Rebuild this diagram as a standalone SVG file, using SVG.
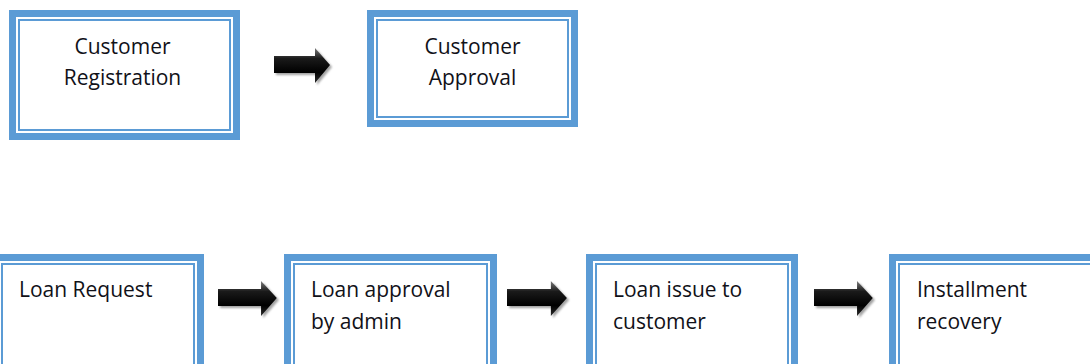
<svg xmlns="http://www.w3.org/2000/svg" width="1090" height="364" viewBox="0 0 1090 364">
<style>
.thick{fill:none;stroke:#5B9BD5;stroke-width:7}
.thin{fill:none;stroke:#5B9BD5;stroke-width:2}
text{font-family:"Open Sans","Noto Sans",sans-serif;font-size:21px;fill:#111118}
.c{text-anchor:middle}
.arrow{fill:url(#ag)}
.shadow{fill:#555;opacity:0.55;filter:url(#blur)}
</style>
<defs>
<linearGradient id="ag" x1="0" y1="0" x2="0" y2="1">
<stop offset="0" stop-color="#7a7a7a"/>
<stop offset="0.3" stop-color="#1a1a1a"/>
<stop offset="0.7" stop-color="#000"/>
<stop offset="1" stop-color="#2a2a2a"/>
</linearGradient>
<filter id="blur" x="-20%" y="-20%" width="140%" height="140%"><feGaussianBlur stdDeviation="1"/></filter>
<g id="arr">
<polygon class="shadow" transform="translate(2,2)" points="0,8 41,8 41,0 56,17 41,35 41,25 0,25"/>
<polygon class="arrow" points="0,8 41,8 41,0 56,17 41,35 41,25 0,25"/>
</g>
</defs>
<rect width="1090" height="364" fill="#fff"/>

<g id="connectors">
<use href="#arr" x="274" y="48"/>
<use href="#arr" transform="translate(218,281) scale(1.05,1)"/>
<use href="#arr" transform="translate(507,281) scale(1.07,1)"/>
<use href="#arr" transform="translate(814,281) scale(1.05,1)"/>
</g>

<g id="customer-registration">
<rect class="thick" x="12.5" y="13.5" width="224" height="123"/>
<rect class="thin" x="19" y="20" width="211" height="110"/>
<text class="c" x="122.5" y="54">Customer</text>
<text class="c" x="122.5" y="85">Registration</text>
</g>

<g id="customer-approval">
<rect class="thick" x="370.5" y="13.5" width="204" height="110"/>
<rect class="thin" x="377" y="20" width="191" height="97"/>
<text class="c" x="472.5" y="54">Customer</text>
<text class="c" x="472.5" y="85">Approval</text>
</g>

<g id="loan-request">
<rect class="thick" x="-4.5" y="257.5" width="205" height="120"/>
<rect class="thin" x="2" y="264" width="192" height="110"/>
<text x="19" y="297">Loan Request</text>
</g>

<g id="loan-approval">
<rect class="thick" x="287.5" y="257.5" width="206" height="120"/>
<rect class="thin" x="294" y="264" width="193" height="110"/>
<text x="311" y="297">Loan approval</text>
<text x="311" y="329">by admin</text>
</g>

<g id="loan-issue">
<rect class="thick" x="589.5" y="257.5" width="205" height="120"/>
<rect class="thin" x="596" y="264" width="192" height="110"/>
<text x="613" y="297">Loan issue to</text>
<text x="613" y="329">customer</text>
</g>

<g id="installment-recovery">
<rect class="thick" x="892.5" y="257.5" width="210" height="120"/>
<rect class="thin" x="899" y="264" width="197" height="110"/>
<text x="917" y="297">Installment</text>
<text x="917" y="329">recovery</text>
</g>
</svg>
